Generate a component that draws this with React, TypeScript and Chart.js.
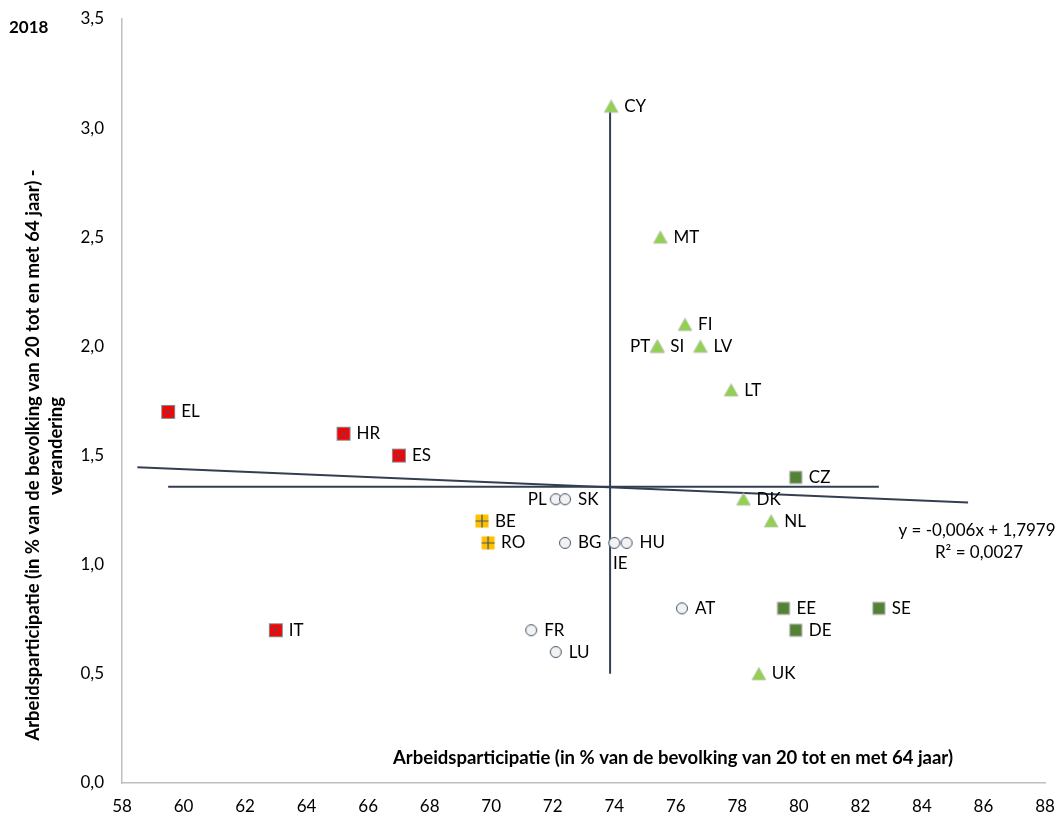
import React, { useEffect, useRef } from 'react';
import { Chart, registerables } from 'chart.js';
Chart.register(...registerables);

// ---- data ----
const countries = ['CY', 'MT', 'FI', 'PT', 'SI', 'LV', 'LT', 'DK', 'NL', 'UK', 'CZ', 'EE', 'SE', 'DE', 'EL', 'HR', 'ES', 'IT', 'BE', 'RO', 'PL', 'SK', 'BG', 'IE', 'HU', 'AT', 'FR', 'LU'];
const participation = [73.9, 75.5, 76.3, 75.4, 75.4, 76.8, 77.8, 78.2, 79.1, 78.7, 79.9, 79.5, 82.6, 79.9, 59.5, 65.2, 67.0, 63.0, 69.7, 69.9, 72.1, 72.4, 72.4, 74.0, 74.4, 76.2, 71.3, 72.1];
const changeValues = [3.1, 2.5, 2.1, 2.0, 2.0, 2.0, 1.8, 1.3, 1.2, 0.5, 1.4, 0.8, 0.8, 0.7, 1.7, 1.6, 1.5, 0.7, 1.2, 1.1, 1.3, 1.3, 1.1, 1.1, 1.1, 0.8, 0.7, 0.6];
const groups = ['tri', 'tri', 'tri', 'tri', 'tri', 'tri', 'tri', 'tri', 'tri', 'tri', 'sq', 'sq', 'sq', 'sq', 'red', 'red', 'red', 'red', 'orange', 'orange', 'circle', 'circle', 'circle', 'circle', 'circle', 'circle', 'circle', 'circle'];
const labelLeft = ['PT', 'PL'];
const labelBelow = ['IE'];
const trendSlope = -0.006;
const trendIntercept = 1.7979;
const trendFrom = 58.5;
const trendTo = 85.5;
const xTickMin = 58, xTickMax = 88, xStep = 2;
const yTickMin = 0, yTickMax = 3.5, yStep = 0.5;
const yearLabel = '2018';
const xTitle = 'Arbeidsparticipatie (in % van de bevolking van 20 tot en met 64 jaar)';
const yTitle1 = 'Arbeidsparticipatie (in % van de bevolking van 20 tot en met 64 jaar) -';
const yTitle2 = 'verandering';
const eqLine1 = 'y = -0,006x + 1,7979';
const eqLine2 = 'R² = 0,0027';

const FONT = 'Lato, "Open Sans", sans-serif';
const LINE_COLOR = '#333F50';

function makeMarker(kind: string): HTMLCanvasElement {
  const c = document.createElement('canvas');
  const s = 16;
  c.width = s; c.height = s;
  const g = c.getContext('2d')!;
  const m = s / 2;
  if (kind === 'tri') {
    g.beginPath();
    g.moveTo(m, m - 6.5);
    g.lineTo(m + 7, m + 6);
    g.lineTo(m - 7, m + 6);
    g.closePath();
    g.fillStyle = '#92D050';
    g.fill();
    g.strokeStyle = '#BFBFBF';
    g.lineWidth = 0.75;
    g.stroke();
  } else if (kind === 'sq') {
    g.fillStyle = '#548235';
    g.fillRect(m - 6, m - 6, 12, 12);
    g.strokeStyle = '#A6A6A6';
    g.lineWidth = 1;
    g.strokeRect(m - 6, m - 6, 12, 12);
  } else if (kind === 'red') {
    g.fillStyle = '#FF0000';
    g.fillRect(m - 6.5, m - 6.5, 13, 13);
    g.strokeStyle = '#8C8C8C';
    g.lineWidth = 1;
    g.strokeRect(m - 6.5, m - 6.5, 13, 13);
    g.strokeStyle = '#44546A';
    g.lineWidth = 1;
    g.beginPath();
    g.moveTo(m - 6, m - 6); g.lineTo(m + 6, m + 6);
    g.moveTo(m + 6, m - 6); g.lineTo(m - 6, m + 6);
    g.stroke();
  } else if (kind === 'orange') {
    g.fillStyle = '#FFC000';
    g.fillRect(m - 6.5, m - 6.5, 13, 13);
    g.strokeStyle = '#44546A';
    g.lineWidth = 1.2;
    g.beginPath();
    g.moveTo(m, m - 6.5); g.lineTo(m, m + 6.5);
    g.moveTo(m - 6.5, m); g.lineTo(m + 6.5, m);
    g.stroke();
  } else {
    g.beginPath();
    g.arc(m, m, 5.5, 0, Math.PI * 2);
    g.fillStyle = '#F2F2F2';
    g.fill();
    g.strokeStyle = '#44546A';
    g.lineWidth = 1;
    g.stroke();
  }
  return c;
}

const fmt = (v: number) => v.toFixed(1).replace('.', ',');

export default function App() {
  const ref = useRef<HTMLCanvasElement | null>(null);
  useEffect(() => {
    if (!ref.current) return;
    const groupKinds = ['tri', 'sq', 'red', 'orange', 'circle'];
    const n = participation.length;
    const meanX = participation.reduce((a, b) => a + b, 0) / n;
    const meanY = changeValues.reduce((a, b) => a + b, 0) / n;
    const minX = Math.min(...participation), maxX = Math.max(...participation);
    const minY = Math.min(...changeValues), maxY = Math.max(...changeValues);

    const pointSets = groupKinds.map((k) => {
      const marker = makeMarker(k);
      const data = countries
        .map((c, i) => ({ x: participation[i], y: changeValues[i], g: groups[i] }))
        .filter((d) => d.g === k)
        .map((d) => ({ x: d.x, y: d.y }));
      return {
        type: 'scatter' as const,
        label: k,
        data,
        pointStyle: marker,
        pointRadius: 7,
        showLine: false,
        order: 0,
      };
    });

    const lineSet = (data: { x: number; y: number }[]) => ({
      type: 'scatter' as const,
      label: 'line',
      data,
      showLine: true,
      borderColor: LINE_COLOR,
      borderWidth: 2,
      pointRadius: 0,
      fill: false,
      order: 5,
    });

    const labelPlugin = {
      id: 'labels',
      afterDatasetsDraw(chart: any) {
        const ctx = chart.ctx;
        const xs = chart.scales.x, ys = chart.scales.y;
        ctx.save();
        ctx.font = `17px ${FONT}`;
        ctx.fillStyle = '#000';
        ctx.textBaseline = 'middle';
        countries.forEach((c, i) => {
          const px = xs.getPixelForValue(participation[i]);
          const py = ys.getPixelForValue(changeValues[i]);
          if (labelLeft.includes(c)) {
            ctx.textAlign = 'right';
            ctx.fillText(c, px - (c === 'PT' ? 7 : 9), py);
          } else if (labelBelow.includes(c)) {
            ctx.textAlign = 'center';
            ctx.fillText(c, px + 6, py + 21);
          } else {
            ctx.textAlign = 'left';
            ctx.fillText(c, px + 13, py);
          }
        });
        ctx.restore();
      },
      afterDraw(chart: any) {
        const ctx = chart.ctx;
        ctx.save();
        ctx.fillStyle = '#000';
        ctx.textBaseline = 'middle';
        ctx.font = `bold 17px ${FONT}`;
        ctx.textAlign = 'left';
        ctx.fillText(yearLabel, 9, 28);
        ctx.font = `bold 18.5px ${FONT}`;
        ctx.textAlign = 'center';
        ctx.fillText(xTitle, 673, 758);
        ctx.save();
        ctx.translate(33, 455);
        ctx.rotate(-Math.PI / 2);
        ctx.fillText(yTitle1, 0, 0);
        ctx.restore();
        ctx.save();
        ctx.translate(56, 446);
        ctx.rotate(-Math.PI / 2);
        ctx.fillText(yTitle2, 0, 0);
        ctx.restore();
        ctx.font = `17px ${FONT}`;
        ctx.fillText(eqLine1, 977, 531);
        ctx.fillText(eqLine2, 979, 553);
        ctx.restore();
      },
    };

    const chart = new Chart(ref.current, {
      type: 'scatter',
      data: {
        datasets: [
          ...pointSets,
          lineSet([{ x: meanX, y: minY }, { x: meanX, y: maxY }]),
          lineSet([{ x: minX, y: meanY }, { x: maxX, y: meanY }]),
          lineSet([
            { x: trendFrom, y: trendSlope * trendFrom + trendIntercept },
            { x: trendTo, y: trendSlope * trendTo + trendIntercept },
          ]),
        ] as any,
      },
      options: {
        animation: false,
        responsive: false,
        maintainAspectRatio: false,
        layout: { padding: { top: 19, right: 19, left: 0, bottom: 0 } },
        plugins: { legend: { display: false }, tooltip: { enabled: false } },
        scales: {
          x: {
            type: 'linear',
            min: xTickMin,
            max: xTickMax,
            ticks: { stepSize: xStep, color: '#000', font: { family: FONT, size: 17 }, padding: 13 },
            grid: { display: false, drawTicks: false, tickLength: 0 },
            border: { display: true, color: '#BFBFBF', width: 1.5 },
            afterFit: (s: any) => { s.height = 34; s.paddingRight = 0; s.paddingLeft = 0; },
          },
          y: {
            type: 'linear',
            min: yTickMin,
            max: yTickMax,
            ticks: { stepSize: yStep, color: '#000', font: { family: FONT, size: 17 }, padding: 18, callback: (v: any) => fmt(Number(v)) },
            grid: { display: false, drawTicks: false, tickLength: 0 },
            border: { display: true, color: '#BFBFBF', width: 1.5 },
            afterFit: (s: any) => { s.width = 122; s.paddingTop = 0; s.paddingBottom = 0; },
          },
        },
      },
      plugins: [labelPlugin],
    });
    return () => chart.destroy();
  }, []);

  return (
    <div style={{ position: 'fixed', left: 0, top: 0, width: 1064, height: 817, background: '#fff' }}>
      <canvas ref={ref} width={1064} height={817} style={{ display: 'block' }} />
    </div>
  );
}
